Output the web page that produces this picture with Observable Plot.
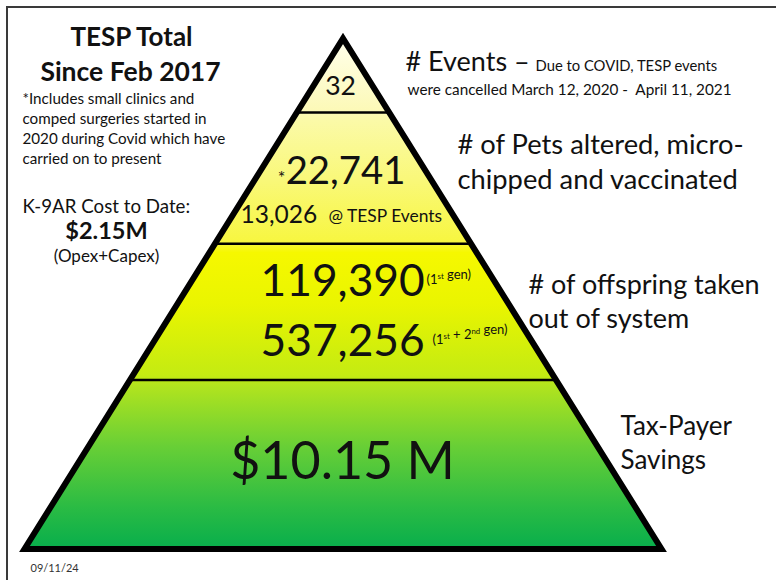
<!DOCTYPE html>
<html>
<head>
<meta charset="utf-8">
<script src="https://cdn.jsdelivr.net/npm/d3@7"></script>
<script src="https://cdn.jsdelivr.net/npm/@observablehq/plot@0.6"></script>
<style>
  html, body { margin: 0; padding: 0; background: #fff; }
  #wrap { position: relative; width: 776px; height: 580px; overflow: hidden; }
  #wrap svg { position: absolute; left: 0; top: 0; }
  #edge { position: absolute; left: 6px; top: 6px; right: -4px; bottom: -4px;
          border-left: 2px solid #3a3a3a; border-top: 2px solid #3a3a3a; pointer-events: none; }
</style>
</head>
<body>
<div id="wrap"><div id="edge"></div></div>
<script>
// ---------------- data ----------------
const titleLines = ["TESP Total", "Since Feb 2017"];
const noteLines = ["*Includes small clinics and", "comped surgeries started in", "2020 during Covid which have", "carried on to present"];
const costLabel = "K-9AR Cost to Date:";
const costMillions = [2.15];
const costNote = "(Opex+Capex)";
const tierNames = ["# Events –", "# of Pets altered, micro-", "chipped and vaccinated", "# of offspring taken", "out of system", "Tax-Payer", "Savings"];
const eventsNote = ["Due to COVID, TESP events", "were cancelled March 12, 2020 -  April 11, 2021"];
const eventsTotal = [32];
const petsCounts = [22741, 13026];        // total (*), at TESP events
const petsSubLabel = "@ TESP Events";
const offspringCounts = [119390, 537256]; // 1st gen, 1st + 2nd gen
const offspringSubLabels = ["(1^{st} gen)", "(1^{st} + 2^{nd} gen)"];
const savingsMillions = [10.15];
const tierBreaks = [0, 0.145, 0.402, 0.669, 1]; // relative heights of tier boundaries
const dateStamp = "09/11/24";

// ---------------- helpers ----------------
const FONT = "Lato, 'Open Sans', sans-serif";
const fmt = d3.format(",");
const T = (str, x, y, o = {}) => Plot.text([str], {
  text: d => d, frameAnchor: "top-left", dx: x, dy: y, lineAnchor: "bottom",
  textAnchor: "start", fontSize: 16, fill: "#111", fontFamily: FONT, ...o
});

const outline = [
  {x: 0, y: 1}, {x: 1, y: 1}, {x: 0, y: 0}, {x: -1, y: 1}, {x: 0, y: 1}
];

const plot = Plot.plot({
  width: 776, height: 580, margin: 0,
  style: {fontFamily: FONT, background: "transparent", overflow: "visible"},
  x: {domain: [-1, 1], range: [24, 661], axis: null},
  y: {domain: [0, 1], range: [38, 548.5], axis: null},
  marks: [
    Plot.areaX([0, 1], {y: d => d, x1: d => -d, x2: d => d, fill: "url(#pyrGrad)", curve: "linear"}),
    Plot.ruleY(tierBreaks.slice(1, -1), {y: d => d, x1: d => -d, x2: d => d, stroke: "#000", strokeWidth: 2.6}),
    Plot.line(outline, {x: "x", y: "y", stroke: "#000", strokeWidth: 6, strokeLinejoin: "miter", strokeMiterlimit: 10, curve: "linear"}),

    // left panel
    T(titleLines[0], 131, 45, {textAnchor: "middle", fontWeight: "bold", fontSize: 26}),
    T(titleLines[1], 130, 80, {textAnchor: "middle", fontWeight: "bold", fontSize: 26.5}),
    ...noteLines.map((s, i) => T(s, 22, 103 + 20 * i, {fontSize: 15.2})),
    T(costLabel, 22, 212, {fontSize: 18.7}),
    T(`$${costMillions[0]}M`, 106, 238, {textAnchor: "middle", fontWeight: "bold", fontSize: 23.5}),
    T(costNote, 106, 261, {textAnchor: "middle", fontSize: 17}),
    T(dateStamp, 30, 571, {fontSize: 11, fill: "#333"}),

    // right tier labels
    T(tierNames[0], 405, 70, {fontSize: 27}),
    T(eventsNote[0], 535, 70, {fontSize: 14.8}),
    T(eventsNote[1], 407, 94, {fontSize: 15.3}),
    T(tierNames[1], 457, 153, {fontSize: 27.3}),
    T(tierNames[2], 457, 188, {fontSize: 27.3}),
    T(tierNames[3], 528, 293, {fontSize: 27}),
    T(tierNames[4], 528, 327, {fontSize: 27}),
    T(tierNames[5], 620, 434, {fontSize: 26}),
    T(tierNames[6], 620, 468, {fontSize: 26}),

    // values in the pyramid
    T(fmt(eventsTotal[0]), 340, 94, {textAnchor: "middle", fontSize: 26.5}),
    T("*", 281, 183, {textAnchor: "middle", fontSize: 18}),
    T(fmt(petsCounts[0]), 345, 183, {textAnchor: "middle", fontSize: 38.3}),
    T(fmt(petsCounts[1]), 240, 222, {fontSize: 24.5}),
    T(petsSubLabel, 328, 221, {fontSize: 17.4}),
    T(fmt(offspringCounts[0]), 260, 295, {fontSize: 44.3}),
    T(offspringSubLabels[0], 426, 283, {fontSize: 13}),
    T(fmt(offspringCounts[1]), 260, 355, {fontSize: 44.3}),
    T(offspringSubLabels[1], 432, 343, {fontSize: 13}),
    T(`$${savingsMillions[0]} M`, 342, 478, {textAnchor: "middle", fontSize: 52})
  ]
});

// gradient fill for the pyramid
const ys = plot.scale("y");
const svg = d3.select(plot);
const grad = svg.insert("defs", ":first-child").append("linearGradient")
  .attr("id", "pyrGrad").attr("gradientUnits", "userSpaceOnUse")
  .attr("x1", 0).attr("x2", 0).attr("y1", ys.apply(0)).attr("y2", ys.apply(1));
[[0, "#ffffec"], [0.14, "#fcf9b8"], [0.16, "#fbfaa8"], [0.28, "#f9f878"], [0.40, "#f7f640"],
 [0.42, "#f6f800"], [0.52, "#eaf500"], [0.66, "#c4eb12"], [0.68, "#b2e41e"],
 [0.80, "#68cf36"], [0.92, "#2abb44"], [1, "#08ae4c"]]
  .forEach(([o, c]) => grad.append("stop").attr("offset", o).attr("stop-color", c));

// superscripts written as ^{..}
svg.selectAll("text").each(function() {
  const el = this;
  const s = el.textContent;
  if (!s.includes("^{")) return;
  const fs = parseFloat(el.getAttribute("font-size") || d3.select(el.parentNode).attr("font-size") || 11);
  el.textContent = "";
  const parts = s.split(/(\^\{[^}]*\})/);
  parts.forEach(p => {
    if (!p) return;
    const m = p.match(/^\^\{([^}]*)\}$/);
    if (m) {
      d3.select(el).append("tspan").attr("font-size", fs * 0.6).attr("dy", -fs * 0.38).text(m[1]);
      d3.select(el).append("tspan").attr("dy", fs * 0.38).text("");
    } else {
      d3.select(el).append("tspan").text(p);
    }
  });
});

document.getElementById("wrap").prepend(plot);
</script>
</body>
</html>
